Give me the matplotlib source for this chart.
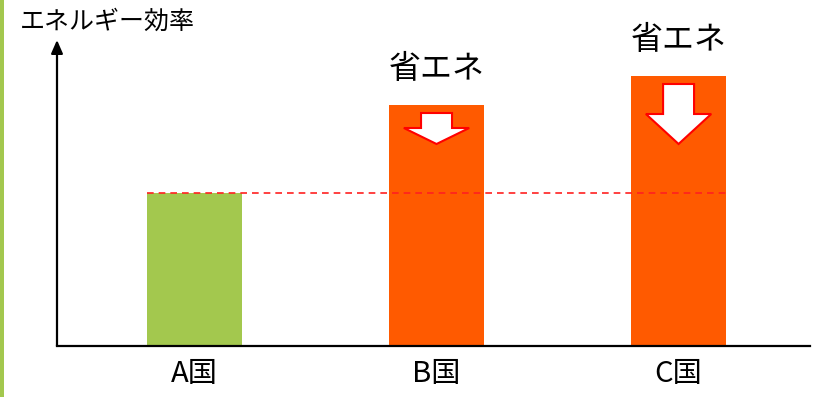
import numpy as np
import matplotlib
matplotlib.use("Agg")
import matplotlib.pyplot as plt
from matplotlib.patches import FancyArrow, Rectangle

plt.rcParams["font.family"] = ["Noto Sans CJK JP", "DejaVu Sans"]

# data (relative efficiency units)
countries = ["A国", "B国", "C国"]
efficiency = [153, 241, 270]
savings = [0, 31, 60]            # length of the "省エネ" arrows
saving_label = "省エネ"
ylabel = "エネルギー効率"

GREEN = "#a3c84e"
ORANGE = "#ff5a00"

fig = plt.figure(figsize=(8.22, 3.97), dpi=100)
ax = fig.add_axes([57 / 822, 51 / 397, 753 / 822, 306 / 397])

x = np.arange(len(countries))
colors = [GREEN, ORANGE, ORANGE]
ax.bar(x, efficiency, width=0.39, color=colors, zorder=2)

# reference level of country A
ax.plot([x[0] - 0.195, x[-1] + 0.195], [efficiency[0]] * 2, color="#ff2020",
        lw=1.2, ls=(0, (4, 3)), zorder=3)

# saving arrows and labels
for xi, val, s in zip(x, efficiency, savings):
    if s <= 0:
        continue
    top = val - 8
    head_len = 16 if s < 45 else 30
    ax.add_patch(FancyArrow(xi, top, 0, -s, width=0.128, head_width=0.27,
                            head_length=head_len, length_includes_head=True,
                            facecolor="white", edgecolor="#ff0000", lw=1.5,
                            zorder=4))
    ax.annotate(saving_label, (xi, val), xytext=(0, 26), textcoords="offset points",
                ha="center", va="center", fontsize=23)

ax.set_xlim(-0.568, 2.543)
ax.set_ylim(0, 306)

for side in ("top", "right", "left"):
    ax.spines[side].set_visible(False)
ax.spines["bottom"].set_linewidth(1.6)
ax.set_yticks([])
ax.set_xticks(x)
ax.set_xticklabels(countries, fontsize=21)
ax.tick_params(axis="x", length=0, pad=9)

# y axis arrow
ax.annotate("", xy=(0, 1.0), xytext=(0, 0), xycoords="axes fraction",
            arrowprops=dict(arrowstyle="-|>,head_length=0.8,head_width=0.35",
                            color="black", lw=1.6, shrinkA=0, shrinkB=0))

fig.text(20 / 822, 1 - 22 / 397, ylabel, ha="left", va="center", fontsize=18)

# green strip on the left edge
fig.add_artist(Rectangle((0, 0), 4 / 822, 1, transform=fig.transFigure,
                         color=GREEN, lw=0))

fig.savefig("out.png", dpi=100)
